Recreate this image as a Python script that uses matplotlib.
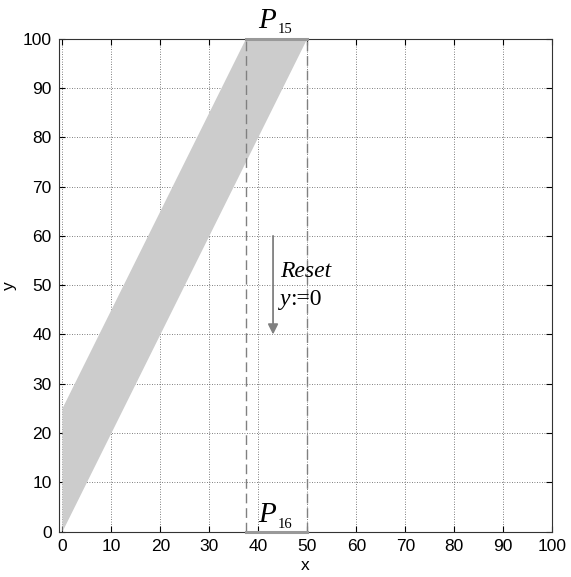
import matplotlib
matplotlib.use("Agg")
import matplotlib.pyplot as plt
from matplotlib.patches import Polygon

# region P15 -> P16 (band) and guard lines
band_x = [0, 0, 37.5, 50]
band_y = [0, 25, 100, 100]
guard_x = [37.5, 50]
arrow_x = 43
arrow_y = [60, 40]
xticks = list(range(0, 101, 10))
yticks = list(range(0, 101, 10))

plt.rcParams["font.family"] = ["Liberation Sans", "DejaVu Sans"]

fig = plt.figure(figsize=(5.71, 5.77), dpi=100)
ax = fig.add_axes([0.103, 0.0785, 0.864, 0.8545])

ax.add_patch(Polygon(list(zip(band_x, band_y)), closed=True,
                     facecolor="#cccccc", edgecolor="none", zorder=1))

for gx in guard_x:
    ax.plot([gx, gx], [0, 100], color="#808080", linestyle=(0, (7, 3.5)),
            linewidth=1.0, zorder=2)
ax.plot(guard_x, [0, 0], color="#999999", linewidth=2.2, zorder=3, clip_on=False)
ax.plot(guard_x, [100, 100], color="#999999", linewidth=2.2, zorder=3, clip_on=False)

ax.annotate("", xy=(arrow_x, arrow_y[1]), xytext=(arrow_x, arrow_y[0]),
            arrowprops=dict(arrowstyle="-|>", color="#808080", lw=1.3,
                            mutation_scale=15, shrinkA=0, shrinkB=0))
serif = "Liberation Serif"
ax.text(44.4, 52.7, "Reset", family=serif, style="italic",
        fontsize=17, va="center", ha="left")
t = ax.text(44.4, 47.0, "y", family=serif, style="italic",
            fontsize=17, va="center", ha="left")
ax.annotate(":=0", xy=(1, 0.5), xycoords=t, family=serif, fontsize=17,
            va="center", ha="left")

# P15 above the top, P16 near the bottom
for lab, py, sy in [("15", 102.1, 101.1), ("16", 2.0, 0.75)]:
    p = ax.text(39.9, py, "P", family=serif, style="italic", fontsize=21,
                ha="left", va="baseline")
    ax.text(44.0, sy, lab, family=serif, fontsize=10.5, ha="left", va="baseline")

ax.set_xlim(-0.75, 100)
ax.set_ylim(0, 100)
ax.set_xticks(xticks)
ax.set_yticks(yticks)
ax.tick_params(direction="in", length=4, labelsize=12.5, top=True, right=True,
               labeltop=False, labelright=False, pad=5)
ax.grid(True, linestyle=(0, (1, 2)), color="#555555", linewidth=0.6)
ax.set_axisbelow(True)
ax.set_xlabel("x", fontsize=12.5, labelpad=3)
ax.set_ylabel("y", fontsize=12.5, labelpad=4)
for s in ax.spines.values():
    s.set_color("#333333")

fig.savefig("out.png", dpi=100)
